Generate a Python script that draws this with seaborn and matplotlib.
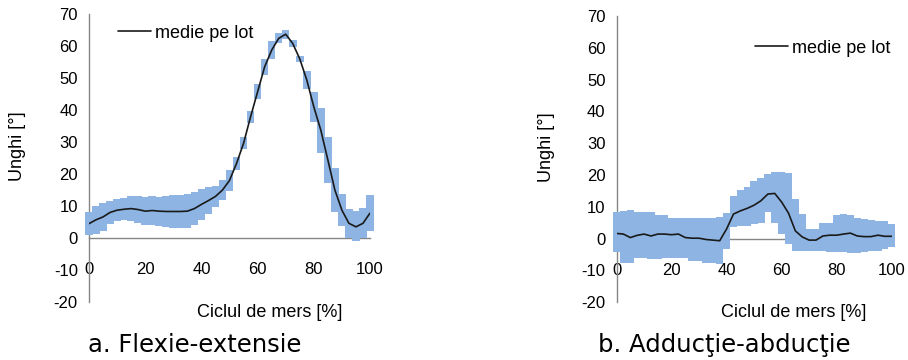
import numpy as np
import pandas as pd
import seaborn as sns
import matplotlib
matplotlib.use('Agg')
import matplotlib.pyplot as plt

# gait cycle positions (%), one point every 2.5 %
cycle = [0, 2.5, 5, 7.5, 10, 12.5, 15, 17.5, 20, 22.5, 25, 27.5, 30, 32.5,
         35, 37.5, 40, 42.5, 45, 47.5, 50, 52.5, 55, 57.5, 60, 62.5, 65,
         67.5, 70, 72.5, 75, 77.5, 80, 82.5, 85, 87.5, 90, 92.5, 95, 97.5,
         100]

# a. Flexie-extensie
flex_mean = [4.5, 5.7, 6.6, 8.0, 8.7, 9.0, 9.2, 8.9, 8.4, 8.6, 8.4, 8.3, 8.3,
             8.3, 8.4, 9.2, 10.5, 11.7, 13.0, 15.0, 18.0, 23.3, 29.6, 37.9,
             45.7, 53.5, 58.7, 62.4, 63.7, 60.8, 56.0, 49.4, 41.0, 33.7, 24.4,
             15.0, 8.7, 4.6, 3.5, 4.6, 7.8]
flex_low = [0.8, 1.4, 2.3, 4.5, 5.3, 5.6, 5.4, 4.7, 4.1, 4.2, 3.9, 3.4, 3.1,
            3.0, 3.0, 4.1, 5.7, 7.6, 9.6, 11.8, 14.7, 21.3, 27.7, 36.1, 43.3,
            50.9, 55.9, 60.8, 62.2, 59.6, 55.0, 46.6, 36.3, 26.7, 17.1, 8.0,
            3.7, 0.1, -1.0, -0.1, 2.1]
flex_high = [8.2, 10.0, 10.9, 11.5, 12.1, 12.4, 13.0, 13.1, 12.7, 13.0, 12.9,
             13.2, 13.5, 13.6, 13.8, 14.3, 15.3, 15.8, 16.4, 18.2, 21.3, 25.3,
             31.5, 39.7, 48.1, 56.1, 61.5, 64.0, 65.0, 62.0, 57.0, 52.2, 45.7,
             40.7, 31.7, 22.0, 13.7, 9.1, 8.3, 9.3, 13.5]

# b. Adductie-abductie
abd_mean = [1.6, 1.4, 0.3, 1.0, 1.4, 0.8, 1.4, 1.4, 1.2, 1.4, 0.3, 0.1, 0.1,
            -0.3, -0.5, -0.7, 3.0, 7.7, 8.7, 9.5, 10.5, 11.9, 14.0, 14.2, 11.5,
            8.0, 2.4, 0.5, -0.5, -0.5, 0.8, 1.05, 1.05, 1.4, 1.7, 0.8, 0.6,
            0.6, 1.05, 0.7, 0.7]
abd_low = [-4.4, -7.6, -7.6, -6.0, -6.0, -6.5, -6.5, -6.0, -6.0, -6.0, -6.0,
           -7.0, -7.0, -7.6, -7.6, -8.1, -3.4, 3.5, 4.0, 4.0, 4.5, 5.0, 8.2,
           5.0, 1.4, -1.8, -3.9, -3.9, -3.9, -3.9, -3.9, -4.4, -4.4, -4.4,
           -4.6, -4.6, -4.2, -3.9, -3.9, -3.4, -2.8]
abd_high = [8.2, 8.7, 8.9, 8.2, 8.2, 8.2, 7.5, 7.5, 6.6, 6.6, 6.6, 6.6, 6.6,
            6.6, 6.4, 6.8, 8.0, 13.5, 15.2, 16.1, 18.2, 19.0, 20.3, 20.8,
            20.8, 20.5, 12.4, 7.7, 3.0, 3.0, 5.0, 5.0, 7.5, 7.7, 7.5, 6.4,
            6.1, 5.8, 5.6, 5.4, 4.5]

y_ticks = list(range(-20, 71, 10))
x_ticks = list(range(0, 101, 20))
legend_label = 'medie pe lot'
x_title = 'Ciclul de mers [%]'
y_title = 'Unghi [°]'
captions = ['a. Flexie-extensie', 'b. Adducţie-abducţie']

BAND = '#8db4e2'
AXIS = '#868686'


def draw_panel(ax, mean, low, high, legend_pos):
    """
    Draws the stepped deviation band, the mean curve and the Excel-like axes
    """
    df = pd.DataFrame({'cycle': cycle, 'mean': mean,
                       'low': low, 'high': high})
    ax.bar(df['cycle'], df['high'] - df['low'], bottom=df['low'],
           width=2.7, color=BAND, linewidth=0, zorder=3, clip_on=False)
    sns.lineplot(x='cycle', y='mean', data=df, ax=ax, color='#1a1a1a',
                 linewidth=1.2, zorder=4, label=legend_label)
    ax.set_xlim(0, 100)
    ax.set_ylim(-20, 70)
    ax.set_xticks(x_ticks)
    ax.set_yticks(y_ticks)
    for side in ['top', 'right']:
        ax.spines[side].set_visible(False)
    ax.spines['bottom'].set_position(('data', 0))
    for side in ['left', 'bottom']:
        ax.spines[side].set_color(AXIS)
        ax.spines[side].set_linewidth(1.0)
    ax.tick_params(axis='y', direction='out', length=4, width=1,
                   color=AXIS, labelcolor='black', labelsize=12, pad=4)
    ax.tick_params(axis='x', direction='out', length=4, width=1,
                   color=AXIS, labelcolor='black', labelsize=12, pad=13.5)
    ax.set_xlabel('')
    ax.set_ylabel('')
    ax.text(0.643, -0.035, x_title, transform=ax.transAxes, ha='center',
            va='center', fontsize=13, color='black')
    ax.text(-0.255, 0.54, y_title, transform=ax.transAxes, ha='center',
            va='center', rotation=90, fontsize=13, color='black')
    leg = ax.legend(loc='center left', bbox_to_anchor=legend_pos,
                    frameon=False, fontsize=13, borderpad=0, borderaxespad=0,
                    handlelength=1.8, handletextpad=0.2)
    for t in leg.get_texts():
        t.set_color('black')


def main():
    sns.set_style('white')
    plt.rcParams['font.family'] = ['Liberation Sans', 'DejaVu Sans']
    plt.rcParams['axes.unicode_minus'] = False
    fig = plt.figure(figsize=(9.08, 3.6), dpi=100)
    ax1 = fig.add_axes([0.098, 0.161, 0.3095, 0.8])
    ax2 = fig.add_axes([0.679, 0.161, 0.303, 0.794])
    draw_panel(ax1, flex_mean, flex_low, flex_high, (0.105, 0.934))
    draw_panel(ax2, abd_mean, abd_low, abd_high, (0.505, 0.888))
    fig.text(0.2148, 0.042, captions[0], ha='center', va='center',
             fontsize=17.5, family='DejaVu Sans', color='black')
    fig.text(0.798, 0.042, captions[1], ha='center', va='center',
             fontsize=17.5, family='DejaVu Sans', color='black')
    fig.savefig('out.png', dpi=100)


if __name__ == '__main__':
    main()
